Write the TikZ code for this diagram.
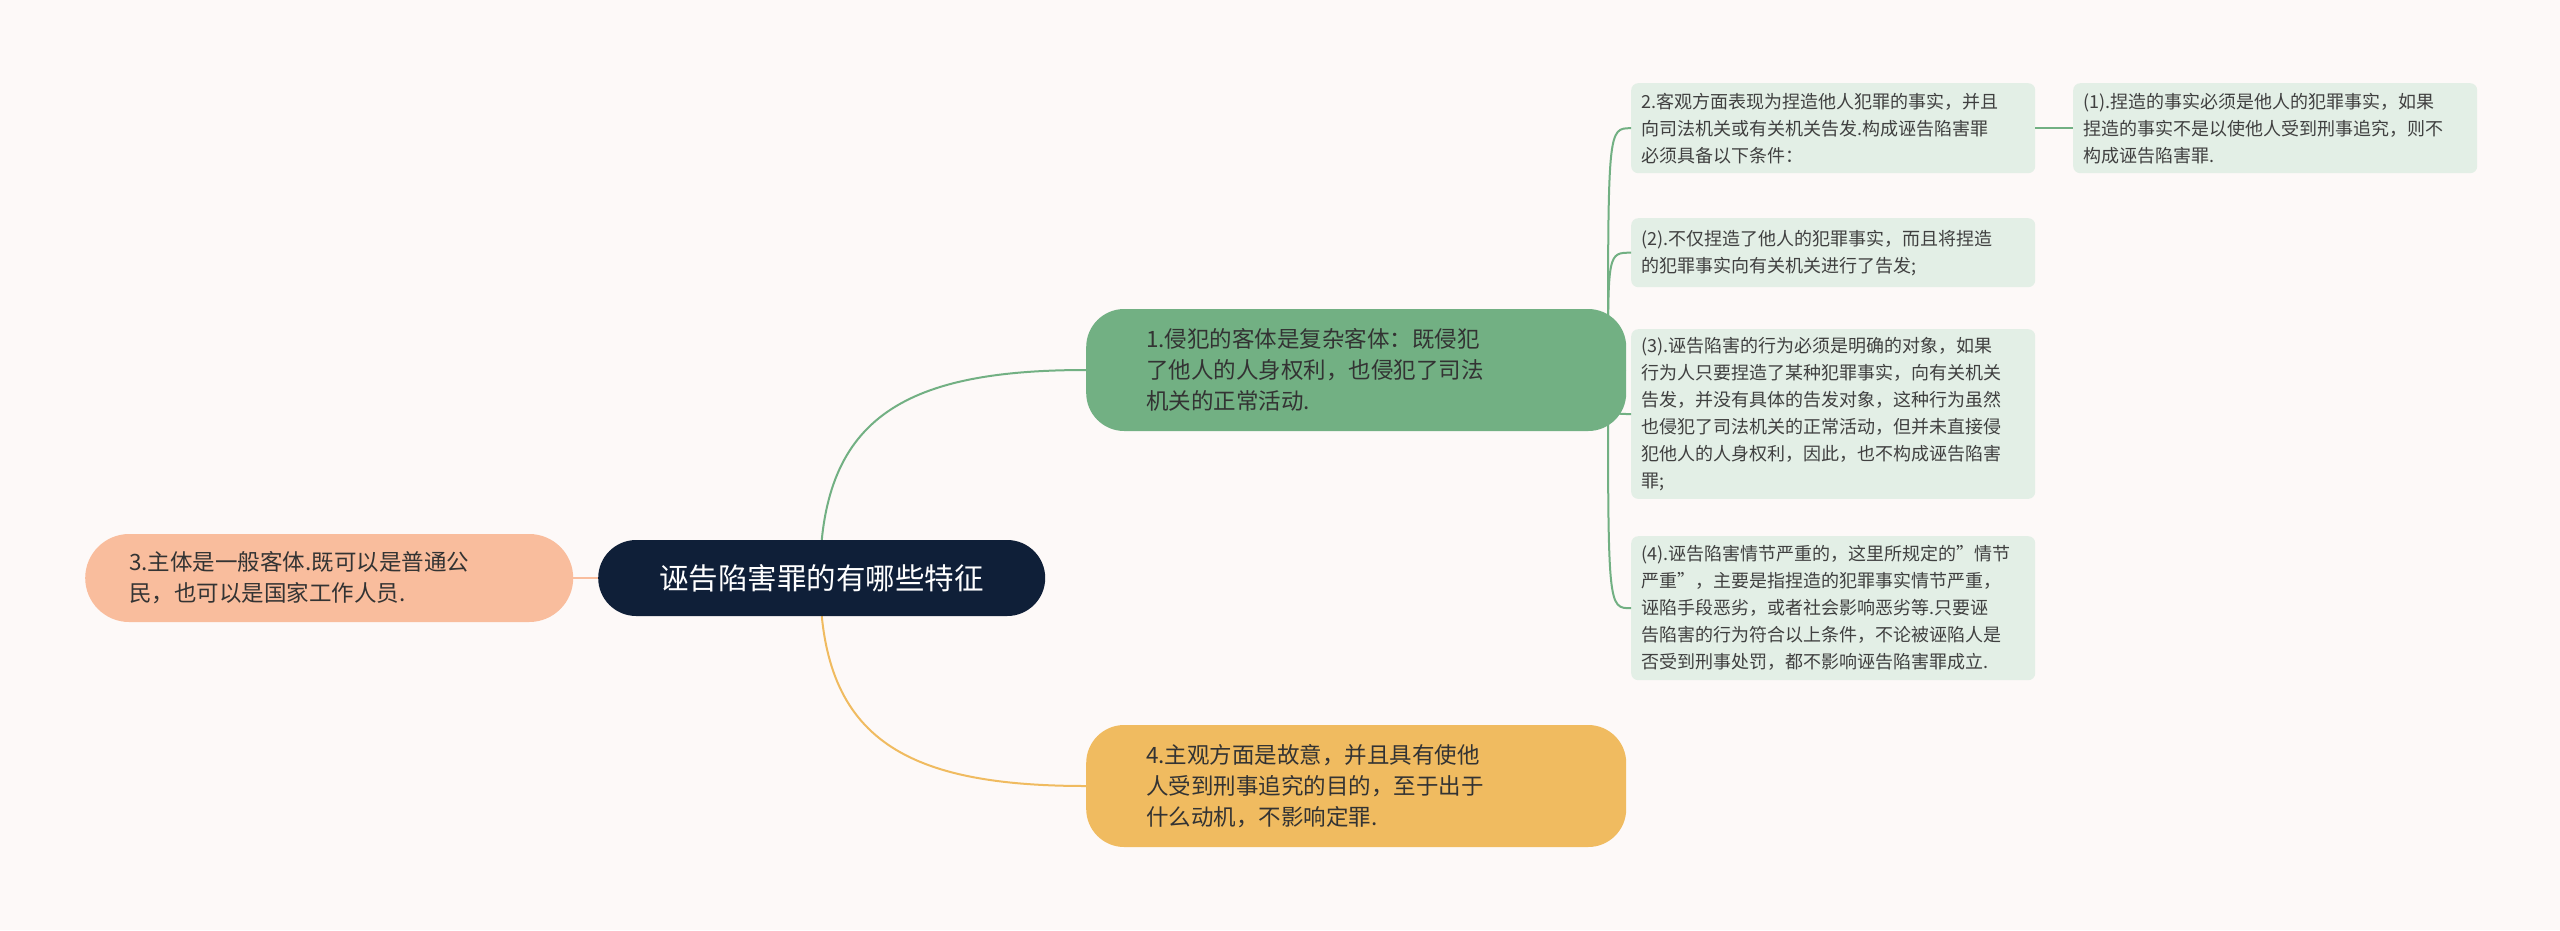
\documentclass[tikz,border=0pt]{standalone}
\usepackage{fontspec}
\setmainfont{Noto Sans CJK SC}
\begin{document}
\begin{tikzpicture}[x=1pt,y=-1pt]
\tikzset{
  topic/.style={rounded corners=38pt, minimum height=122pt, text width=420pt, inner xsep=60pt,
    align=left, anchor=west, font=\fontsize{22.5}{31}\selectfont, text=black!80},
  leaf/.style={rounded corners=7pt, text width=384pt, inner xsep=10pt,
    inner ysep=8pt, align=left, anchor=north west, font=\fontsize{18}{27}\selectfont, text=black!75},
  glink/.style={draw=sage, line width=2pt},
}
\definecolor{bg}{HTML}{FDF9F8}
\definecolor{navy}{HTML}{0F1F38}
\definecolor{peach}{HTML}{F9BD9D}
\definecolor{sage}{HTML}{72B083}
\definecolor{gold}{HTML}{F0BB60}
\definecolor{leafbg}{HTML}{E3EFE6}
\fill[bg] (0,0) rectangle (2560,930);
% main topics
\node[topic, fill=sage, minimum width=506pt] (obj) at (1086,370) {1.侵犯的客体是复杂客体：既侵犯\\了他人的人身权利，也侵犯了司法\\机关的正常活动.};
\node[topic, fill=gold, minimum width=506pt] (subj) at (1086,786) {4.主观方面是故意，并且具有使他\\人受到刑事追究的目的，至于出于\\什么动机，不影响定罪.};
\node[topic, fill=peach, minimum width=473pt, minimum height=88pt, rounded corners=44pt, text width=400pt, inner xsep=44pt] (who) at (85,578) {3.主体是一般客体.既可以是普通公\\民，也可以是国家工作人员.};
% connectors under root
\draw[peach, line width=2pt] (who.east) -- (680,578);
\draw[sage, line width=2pt] (820,578) .. controls (820,420) and (900,370) .. (obj.west);
\draw[gold, line width=2pt] (820,578) .. controls (820,736) and (900,786) .. (subj.west);
\node[fill=navy, rounded corners=38pt, minimum width=447pt, minimum height=76pt, text=white,
  font=\fontsize{29.5}{34}\selectfont, anchor=west] (root) at (598,578) {诬告陷害罪的有哪些特征};
% leaves
\node[leaf, fill=leafbg, minimum height=90pt] (act) at (1631,83) {2.客观方面表现为捏造他人犯罪的事实，并且\\向司法机关或有关机关告发.构成诬告陷害罪\\必须具备以下条件：};
\node[leaf, fill=leafbg, minimum height=90pt] (c1) at (2073,83) {(1).捏造的事实必须是他人的犯罪事实，如果\\捏造的事实不是以使他人受到刑事追究，则不\\构成诬告陷害罪.};
\node[leaf, fill=leafbg, minimum height=69pt] (c2) at (1631,218) {(2).不仅捏造了他人的犯罪事实，而且将捏造\\的犯罪事实向有关机关进行了告发;};
\node[leaf, fill=leafbg, minimum height=168pt] (c3) at (1631,329) {(3).诬告陷害的行为必须是明确的对象，如果\\行为人只要捏造了某种犯罪事实，向有关机关\\告发，并没有具体的告发对象，这种行为虽然\\也侵犯了司法机关的正常活动，但并未直接侵\\犯他人的人身权利，因此，也不构成诬告陷害\\罪;};
\node[leaf, fill=leafbg, minimum height=144pt] (c4) at (1631,536) {(4).诬告陷害情节严重的，这里所规定的"情节\\严重"，主要是指捏造的犯罪事实情节严重，\\诬陷手段恶劣，或者社会影响恶劣等.只要诬\\告陷害的行为符合以上条件，不论被诬陷人是\\否受到刑事处罚，都不影响诬告陷害罪成立.};
\coordinate (fork) at (1608,370);
\draw[glink] (obj.east) -- (fork);
\foreach \n in {act,c2,c3,c4}
  \draw[glink] (fork) .. controls (fork |- \n.west) .. (\n.west);
\draw[glink] (act.east) -- (c1.west);
\end{tikzpicture}
\end{document}
